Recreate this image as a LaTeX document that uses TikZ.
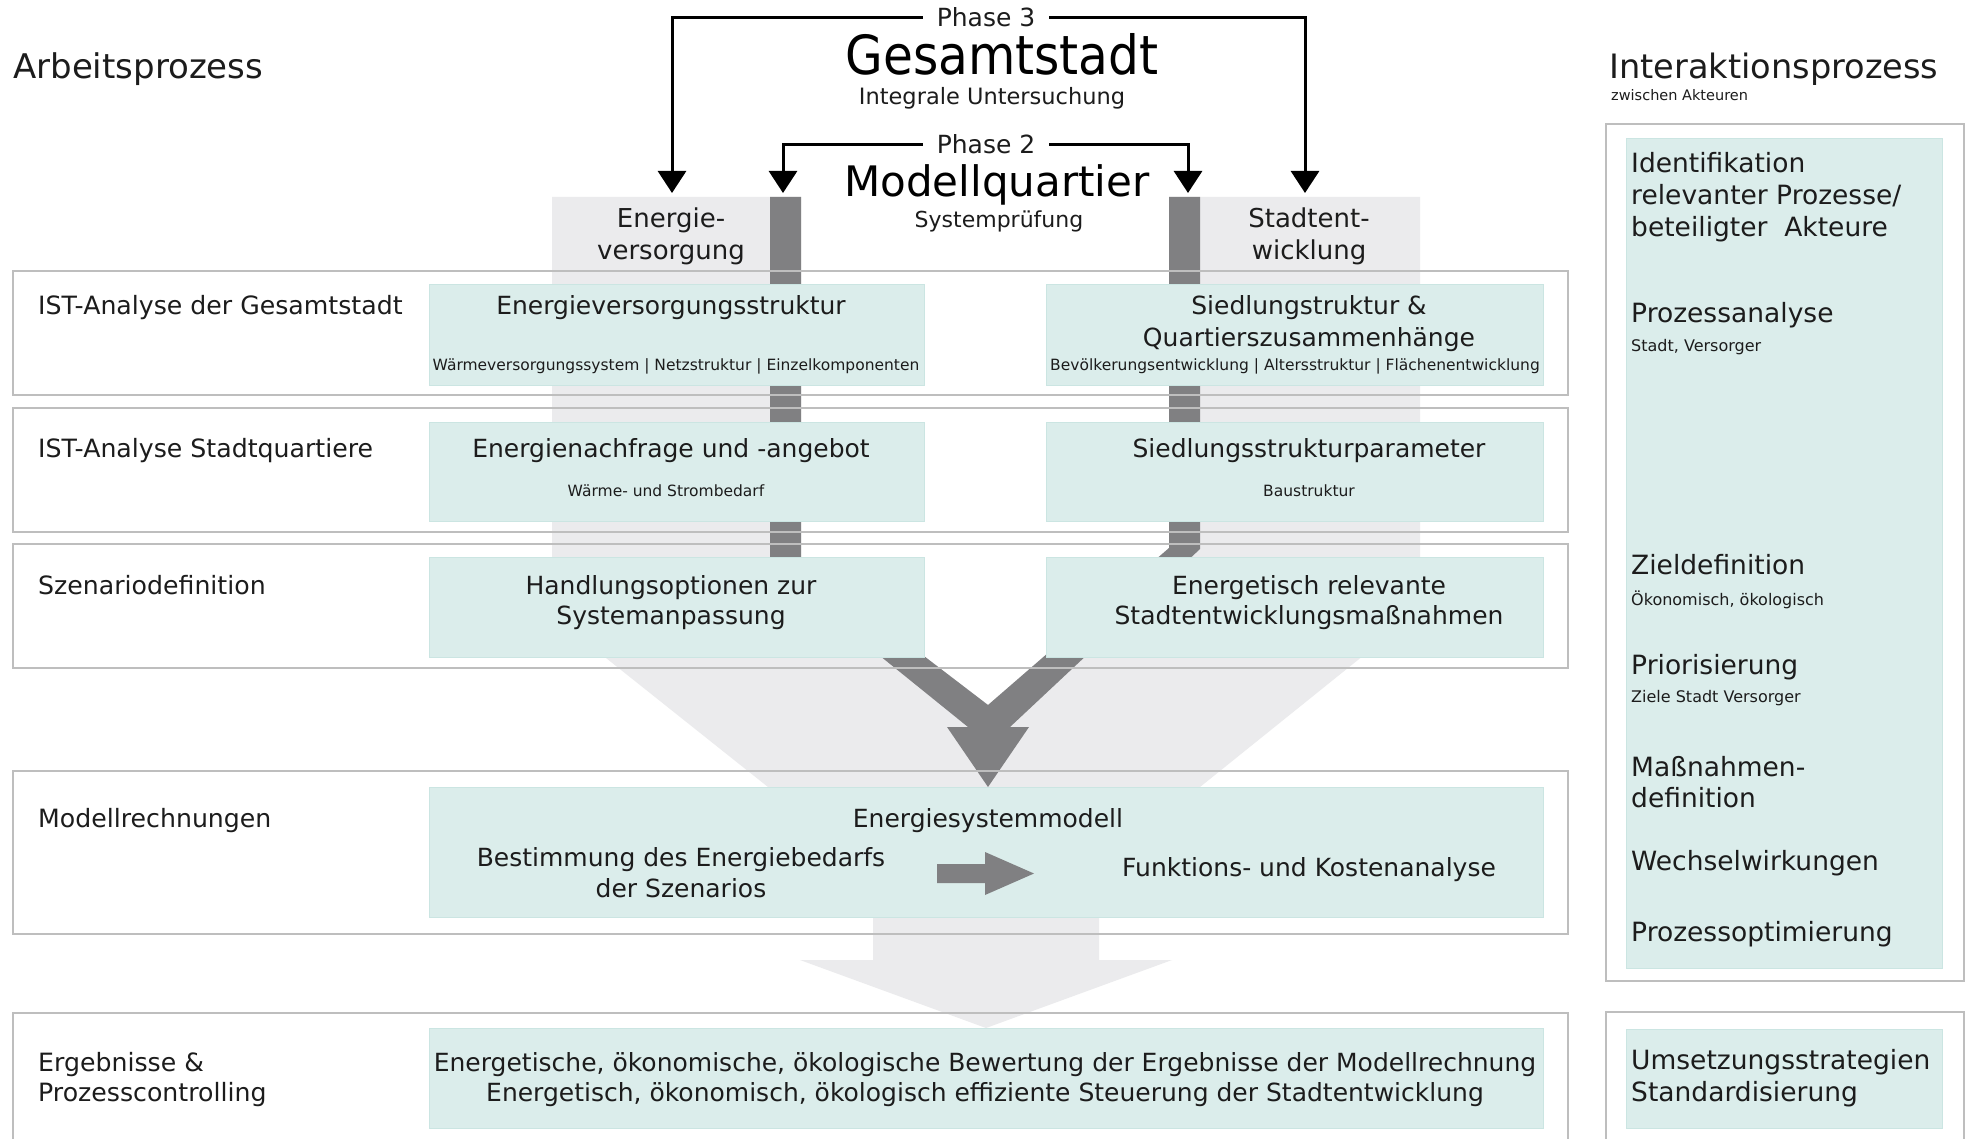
\documentclass[tikz,border=0pt]{standalone}
\usepackage{fontspec}
\setmainfont{DejaVu Sans}
\newfontfamily\titlefont[FakeStretch=0.9]{DejaVu Sans}
\usetikzlibrary{arrows.meta}
\newcommand{\fsz}[1]{\fontsize{#1pt}{#1pt}\selectfont}
\definecolor{teal1}{RGB}{219,237,235}
\definecolor{tealb}{RGB}{203,229,226}
\definecolor{lgray}{RGB}{235,235,237}
\definecolor{dgray}{RGB}{128,128,130}
\definecolor{rowline}{RGB}{190,190,190}
\definecolor{txt}{RGB}{28,28,28}
\begin{document}
\begin{tikzpicture}[x=1pt,y=-1pt,
  rowbox/.style={draw=rowline, line width=1.8pt},
  tealbox/.style={fill=teal1, draw=tealb, line width=1pt, inner sep=0pt},
  lab/.style={font=\fsz{25.2}, text=txt, inner sep=0pt, anchor=base west},
  ctr/.style={font=\fsz{25}, text=txt, inner sep=0pt, anchor=base},
  sml/.style={font=\fsz{15.5}, text=txt, inner sep=0pt, anchor=base},
  rp/.style={font=\fsz{26.5}, text=txt, inner sep=0pt, anchor=base west},
  rps/.style={font=\fsz{16}, text=txt, inner sep=0pt, anchor=base west},
  phase/.style={font=\fsz{25}, text=txt, inner xsep=14pt, inner ysep=0pt, anchor=base},
  phasearrow/.style={draw=black, line width=3pt, -{Triangle[width=28pt,length=22pt]}},
  colhead/.style={font=\fsz{26}, text=txt, inner sep=0pt, anchor=base}]
\useasboundingbox (0,0) rectangle (1977,1139);
\clip (0,0) rectangle (1977,1139);
\fill[white] (0,0) rectangle (1977,1139);

% light gray columns and funnel
\fill[lgray] (552,197) -- (801,197) -- (801,562) -- (988,705) -- (1169,548) -- (1169,197)
  -- (1420,197) -- (1420,610) -- (1200,787) -- (1200,800) -- (768,800) -- (768,787)
  -- (552,615) -- cycle;
\fill[lgray] (873,905) -- (1099,905) -- (1099,960) -- (1172,960) -- (986,1028)
  -- (800,960) -- (873,960) -- cycle;

% dark bars merging into arrow
\fill[dgray] (770,197) -- (770,567) -- (968,727) -- (947,727) -- (988,787) -- (1029,727)
  -- (1010,727) -- (1200,549) -- (1200,197) -- (1169,197) -- (1169,548) -- (988,705)
  -- (801,562) -- (801,197) -- cycle;

% row boxes
\draw[rowbox] (13,271) rectangle (1568,395);
\draw[rowbox] (13,408) rectangle (1568,532);
\draw[rowbox] (13,544) rectangle (1568,668);
\draw[rowbox] (13,771) rectangle (1568,934);
\draw[rowbox] (13,1013) rectangle (1568,1170);

% right panel boxes
\draw[rowbox] (1606,124) rectangle (1964,981);
\draw[rowbox] (1606,1012) rectangle (1964,1170);

% teal boxes
\node[tealbox, minimum width=495pt, minimum height=100pt] (t1l) at (676.5,335) {};
\node[tealbox, minimum width=497pt, minimum height=100pt] (t1r) at (1294.5,335) {};
\node[tealbox, minimum width=495pt, minimum height=99pt] (t2l) at (676.5,471.5) {};
\node[tealbox, minimum width=497pt, minimum height=99pt] (t2r) at (1294.5,471.5) {};
\node[tealbox, minimum width=495pt, minimum height=100pt] (t3l) at (676.5,607) {};
\node[tealbox, minimum width=497pt, minimum height=100pt] (t3r) at (1294.5,607) {};
\node[tealbox, minimum width=1114pt, minimum height=130pt] (t4) at (986,852) {};
\node[tealbox, minimum width=1114pt, minimum height=100pt] (t5) at (986,1078) {};
\node[tealbox, minimum width=316pt, minimum height=829pt] (tp) at (1784,553.5) {};
\node[tealbox, minimum width=316pt, minimum height=99pt] (tq) at (1784,1078.5) {};

% inner arrow in model box
\fill[dgray] (937,864) -- (985,864) -- (985,852) -- (1034,873.5) -- (985,895)
  -- (985,883) -- (937,883) -- cycle;

% headings
\node[font=\fsz{34}, text=txt, inner sep=0pt, anchor=base west] (arb) at (13,79) {Arbeitsprozess};
\node[font=\fsz{33.6}, text=txt, inner sep=0pt, anchor=base west] (int) at (1609,79) {Interaktionsprozess};
\node[font=\fsz{14.5}, text=txt, inner sep=0pt, anchor=base west] (zwi) at (1611,101) {zwischen Akteuren};

% phases
\node[phase] (p3) at (986,27) {Phase 3};
\node[font=\titlefont\fsz{54}, text=black, inner sep=0pt, anchor=base] (gs) at (1002,75) {Gesamtstadt};
\node[font=\fsz{22.5}, text=txt, inner sep=0pt, anchor=base] (iu) at (992,105) {Integrale Untersuchung};
\node[phase] (p2) at (986,154) {Phase 2};
\node[font=\fsz{42}, text=black, inner sep=0pt, anchor=base] (mq) at (997,197) {Modellquartier};
\node[font=\fsz{22}, text=txt, inner sep=0pt, anchor=base] (sp) at (999,228) {Systemprüfung};

\coordinate (e3) at (672,193);
\coordinate (s3) at (1305,193);
\coordinate (e2) at (783,193);
\coordinate (s2) at (1188,193);
\draw[phasearrow] (p3.west) -| (e3);
\draw[phasearrow] (p3.east) -| (s3);
\draw[phasearrow] (p2.west) -| (e2);
\draw[phasearrow] (p2.east) -| (s2);

% column heads
\node[colhead] (ev1) at (671,228) {Energie-};
\node[colhead] (ev2) at (671,260) {versorgung};
\node[colhead] (se1) at (1309,228) {Stadtent-};
\node[colhead] (se2) at (1309,260) {wicklung};

% row labels
\node[lab] (r1) at (38,315) {IST-Analyse der Gesamtstadt};
\node[lab] (r2) at (38,457) {IST-Analyse Stadtquartiere};
\node[lab] (r3) at (38,594) {Szenariodefinition};
\node[lab] (r4) at (38,827) {Modellrechnungen};
\node[lab] (r5a) at (38,1071) {Ergebnisse \&};
\node[lab] (r5b) at (38,1101) {Prozesscontrolling};

% teal texts
\node[ctr] (a1) at (671,315) {Energieversorgungsstruktur};
\node[sml] (a1s) at (676,370) {Wärmeversorgungssystem | Netzstruktur | Einzelkomponenten};
\node[ctr] (b1) at (1309,315) {Siedlungstruktur \&};
\node[ctr] (b1b) at (1309,346) {Quartierszusammenhänge};
\node[sml] (b1s) at (1295,370) {Bevölkerungsentwicklung | Altersstruktur | Flächenentwicklung};
\node[ctr] (a2) at (671,457) {Energienachfrage und -angebot};
\node[sml] (a2s) at (666,496) {Wärme- und Strombedarf};
\node[ctr] (b2) at (1309,457) {Siedlungsstrukturparameter};
\node[sml] (b2s) at (1309,496) {Baustruktur};
\node[ctr] (a3) at (671,594) {Handlungsoptionen zur};
\node[ctr] (a3b) at (671,624) {Systemanpassung};
\node[ctr] (b3) at (1309,594) {Energetisch relevante};
\node[ctr] (b3b) at (1309,624) {Stadtentwicklungsmaßnahmen};
\node[ctr] (m0) at (988,827) {Energiesystemmodell};
\node[ctr] (m1) at (681,866) {Bestimmung des Energiebedarfs};
\node[ctr] (m1b) at (681,897) {der Szenarios};
\node[ctr] (m2) at (1309,876) {Funktions- und Kostenanalyse};
\node[ctr] (e1) at (985,1071) {Energetische, ökonomische, ökologische Bewertung der Ergebnisse der Modellrechnung};
\node[ctr] (e2t) at (985,1101) {Energetisch, ökonomisch, ökologisch effiziente Steuerung der Stadtentwicklung};

% right panel texts
\node[rp] (i1) at (1631,173) {Identifikation};
\node[rp] (i2) at (1631,205) {relevanter Prozesse/};
\node[rp] (i3) at (1631,237) {beteiligter\ \ Akteure};
\node[rp] (i4) at (1631,323) {Prozessanalyse};
\node[rps] (i4s) at (1631,352) {Stadt, Versorger};
\node[rp] (i5) at (1631,574) {Zieldefinition};
\node[rps] (i5s) at (1631,605) {Ökonomisch, ökologisch};
\node[rp] (i6) at (1631,674) {Priorisierung};
\node[rps] (i6s) at (1631,702) {Ziele Stadt Versorger};
\node[rp] (i7) at (1631,776) {Maßnahmen-};
\node[rp] (i7b) at (1631,807) {definition};
\node[rp] (i8) at (1631,870) {Wechselwirkungen};
\node[rp] (i9) at (1631,941) {Prozessoptimierung};
\node[rp] (u1) at (1631,1069) {Umsetzungsstrategien};
\node[rp] (u2) at (1631,1101) {Standardisierung};
\end{tikzpicture}
\end{document}
